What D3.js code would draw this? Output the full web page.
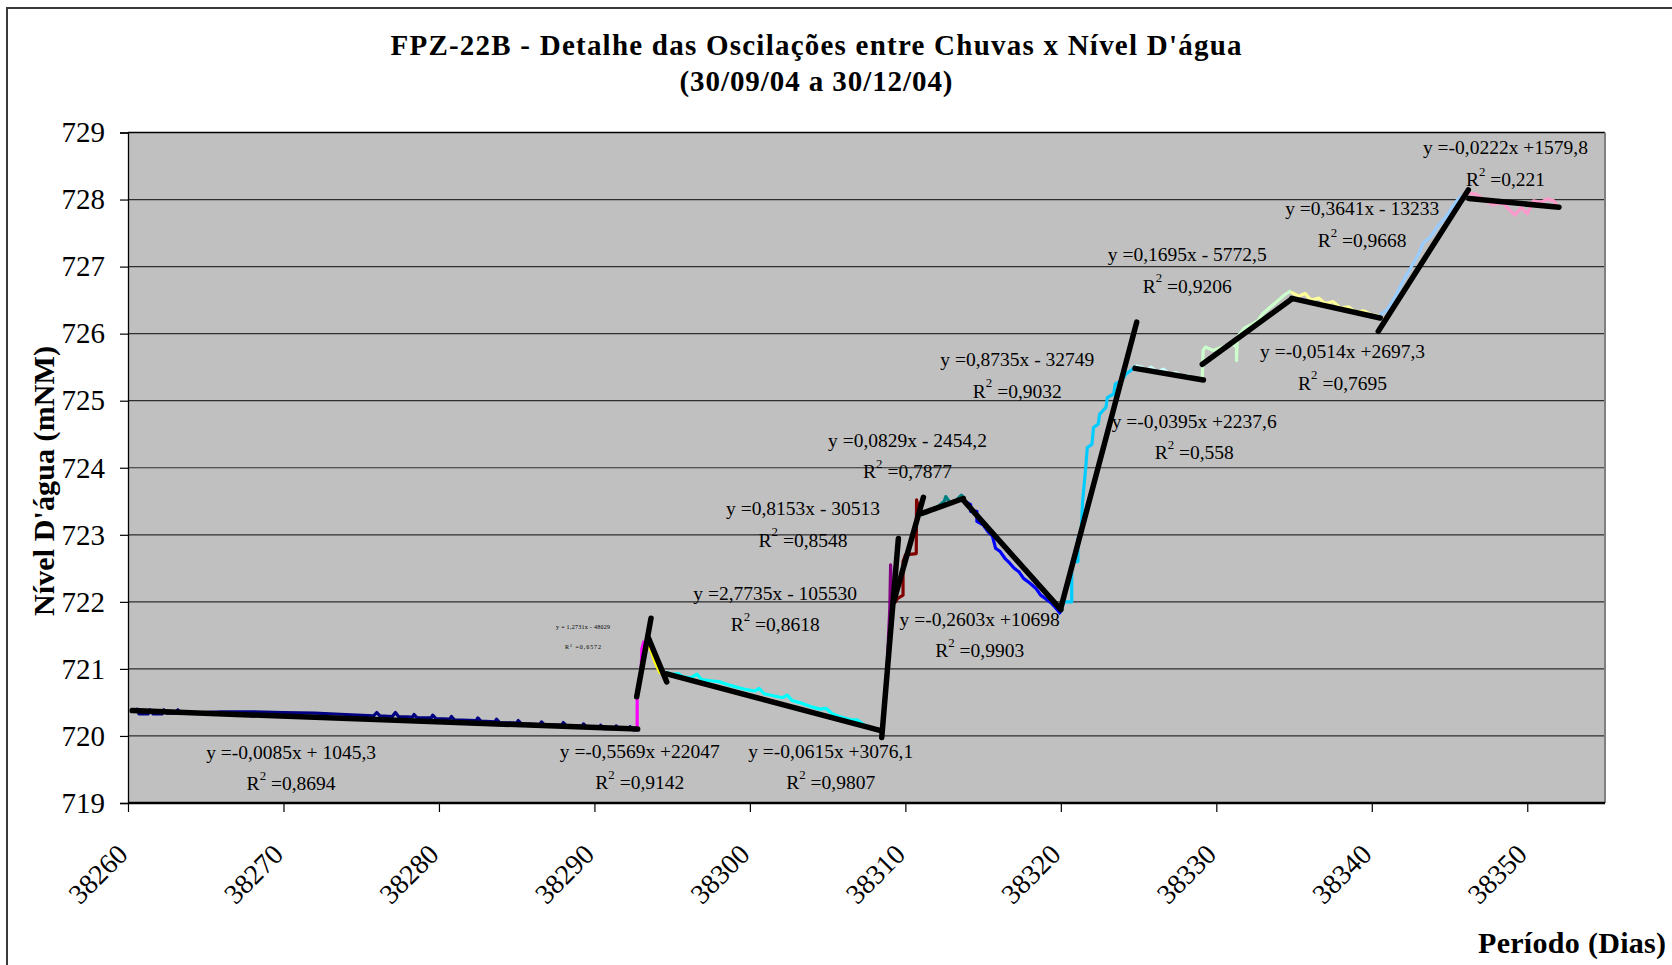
<!DOCTYPE html>
<html>
<head>
<meta charset="utf-8">
<script src="https://cdn.jsdelivr.net/npm/d3@7"></script>
<style>
  body { margin: 0; background: #fff; }
  svg { display: block; }
  text { font-family: "Liberation Serif", "Times New Roman", serif; fill: #000; }
</style>
</head>
<body>
<svg id="chart" width="1672" height="965"></svg>
<script>
// Axis ticks
const xTicks = [38260, 38270, 38280, 38290, 38300, 38310, 38320, 38330, 38340, 38350];
const yTicks = [719, 720, 721, 722, 723, 724, 725, 726, 727, 728, 729];

// Water level readings, one array per oscillation stretch: [day, level (mNM)]
const s01 = [[38260.4,720.37],[38260.6,720.40],[38260.7,720.33],[38261.3,720.33],[38261.4,720.39],[38261.6,720.33],
  [38262.2,720.33],[38262.3,720.39],[38262.5,720.34],[38263.1,720.34],[38263.2,720.39],[38263.4,720.34],
  [38264.2,720.34],[38264.8,720.35],[38266,720.36],[38268,720.36],[38270,720.35],[38272,720.34],[38274,720.32],
  [38275.8,720.30],[38276,720.35],[38276.2,720.30],[38277,720.29],[38277.2,720.35],[38277.4,720.29],
  [38278.3,720.28],[38278.4,720.32],[38278.6,720.27],[38279.5,720.27],[38279.6,720.31],[38279.8,720.26],
  [38280.7,720.25],[38280.8,720.29],[38281,720.24],[38282.4,720.23],[38282.5,720.27],[38282.7,720.22],
  [38283.6,720.21],[38283.7,720.25],[38283.9,720.20],[38285,720.19],[38285.1,720.23],[38285.3,720.18],
  [38286.5,720.17],[38286.6,720.21],[38286.8,720.16],[38287.9,720.16],[38288,720.20],[38288.2,720.15],
  [38289.2,720.14],[38289.3,720.18],[38289.5,720.13],[38290.3,720.12],[38290.4,720.16],[38290.6,720.11],
  [38291.3,720.11],[38291.4,720.15],[38291.6,720.10],[38292.2,720.10],[38292.3,720.14],[38292.5,720.09],[38292.75,720.09]];
const s02 = [[38292.75,720.08],[38292.75,720.60],[38293.0,720.90],[38293.05,721.30],[38293.2,721.42]];
const s03 = [[38293.3,721.45],[38293.6,721.30],[38293.9,721.10],[38294.2,720.95],[38294.5,720.90],[38294.6,720.95]];
const s04 = [[38294.6,720.95],[38295,720.92],[38295.4,720.93],[38295.7,720.88],[38296.2,720.87],[38296.6,720.92],
  [38296.9,720.84],[38297.6,720.82],[38298.0,720.81],[38298.4,720.78],[38298.8,720.75],[38299.3,720.72],
  [38299.8,720.69],[38300.3,720.67],[38300.6,720.71],[38300.9,720.63],[38301.5,720.60],[38302.1,720.57],
  [38302.4,720.61],[38302.7,720.53],[38303.3,720.49],[38303.9,720.44],[38304.5,720.40],[38304.9,720.41],
  [38305.3,720.33],[38305.9,720.28],[38306.5,720.24],[38306.9,720.24],[38307.3,720.17],[38307.8,720.12],
  [38308.3,720.08],[38308.5,720.06]];
const s05 = [[38308.55,720.08],[38308.8,720.90],[38309.0,721.90],[38309.05,722.55],[38309.1,722.15]];
const s06 = [[38309.3,721.98],[38309.5,722.05],[38309.85,722.10],[38309.85,722.60],[38310.0,722.70],[38310.7,722.72],
  [38310.72,723.52],[38310.8,723.45],[38311.0,723.30]];
const s07 = [[38311.0,723.30],[38311.4,723.33],[38311.8,723.38],[38312.2,723.44],[38312.5,723.50],[38312.6,723.57],
  [38312.9,723.47],[38313.3,723.52],[38313.6,723.59],[38313.8,723.55]];
const s08 = [[38313.8,723.50],[38314.2,723.45],[38314.2,723.35],[38314.6,723.35],[38314.6,723.20],[38315.0,723.15],
  [38315.3,723.05],[38315.6,722.98],[38315.8,722.80],[38316.1,722.75],[38316.4,722.65],[38316.7,722.58],
  [38317.0,722.50],[38317.3,722.45],[38317.6,722.35],[38318.0,722.28],[38318.4,722.20],[38318.7,722.10],
  [38319.0,722.05],[38319.4,721.98],[38319.7,721.90],[38320.0,721.82]];
const s09 = [[38320.0,721.85],[38320.2,722.00],[38320.7,722.00],[38320.7,722.60],[38321.1,722.60],[38321.1,722.95],
  [38321.3,723.00],[38321.4,723.50],[38321.6,724.00],[38321.7,724.30],[38322.0,724.35],[38322.1,724.60],
  [38322.4,724.65],[38322.5,724.80],[38322.9,724.90],[38323.0,725.05],[38323.4,725.10],[38323.5,725.25],
  [38323.9,725.30],[38324.2,725.40],[38324.5,725.45],[38324.8,725.52]];
const s10 = [[38324.8,725.52],[38325.2,725.50],[38325.5,725.45],[38325.8,725.50],[38326.2,725.43],[38326.6,725.47],
  [38327,725.39],[38327.4,725.42],[38327.8,725.36],[38328.2,725.38],[38328.6,725.32],[38329.1,725.34]];
const s11 = [[38329.1,725.35],[38329.15,725.75],[38329.3,725.80],[38329.8,725.75],[38330.4,725.80],[38331.0,725.85],
  [38331.3,725.80],[38331.3,725.60],[38331.35,725.95],[38331.8,726.08],[38332.3,726.14],[38332.7,726.20],
  [38333.0,726.30],[38333.5,726.40],[38334,726.50],[38334.4,726.58],[38334.8,726.64]];
const s12 = [[38334.8,726.62],[38335.3,726.56],[38335.7,726.60],[38336.1,726.50],[38336.6,726.53],[38337,726.45],
  [38337.5,726.48],[38338,726.38],[38338.5,726.40],[38339,726.32],[38339.5,726.34],[38340.0,726.28],[38340.5,726.27]];
const s13 = [[38340.5,726.27],[38341,726.36],[38341.5,726.55],[38342,726.78],[38342.5,726.98],[38343,727.18],
  [38343.3,727.35],[38343.8,727.45],[38344.3,727.62],[38344.8,727.75],[38345.2,727.90],[38345.6,728.02],[38346.1,728.10]];
const s14 = [[38346.1,728.10],[38346.7,728.08],[38347.2,728.00],[38347.8,727.92],[38348.4,727.96],[38348.8,727.86],
  [38349.2,727.77],[38349.6,727.88],[38350,727.79],[38350.4,727.98],[38350.9,727.96],[38351.3,728.01],[38351.7,727.98],[38351.9,727.92]];

// Linear trend of each stretch: slope per day, span in days and level at the span centre
const trendSlope = [-0.0085, 1.2731, -0.5569, -0.0615, 2.7735, 0.8153, 0.0829, -0.2603, 0.8735, -0.0395, 0.1695, -0.0514, 0.3641, -0.0222];
const trendFrom  = [38260.27, 38292.72, 38293.47, 38294.65, 38308.48, 38309.25, 38311.05, 38313.73, 38320.0, 38324.77, 38329.1, 38334.85, 38340.42, 38346.25];
const trendTo    = [38292.78, 38293.64, 38294.65, 38308.48, 38309.55, 38311.16, 38313.73, 38320.0, 38324.88, 38329.17, 38334.85, 38340.54, 38346.21, 38352.04];
const trendMid   = [720.24, 721.17, 721.135, 720.50, 721.46, 722.78, 723.43, 722.70, 724.04, 725.395, 726.03, 726.38, 727.09, 727.95];

// Trend equations and fit quality
const trendEquation = ["y =-0,0085x + 1045,3", "y = 1,2731x - 48029", "y =-0,5569x +22047", "y =-0,0615x +3076,1",
  "y =2,7735x - 105530", "y =0,8153x - 30513", "y =0,0829x - 2454,2", "y =-0,2603x +10698", "y =0,8735x - 32749",
  "y =-0,0395x +2237,6", "y =0,1695x - 5772,5", "y =-0,0514x +2697,3", "y =0,3641x - 13233", "y =-0,0222x +1579,8"];
const trendR2 = ["0,8694", "0,6572", "0,9142", "0,9807", "0,8618", "0,8548", "0,7877", "0,9903", "0,9032", "0,558", "0,9206", "0,7695", "0,9668", "0,221"];
// Where each equation sits, in chart units
const labelDay   = [38270.49, 38289.27, 38292.92, 38305.2, 38301.63, 38303.42, 38310.14, 38314.78, 38317.2, 38328.58, 38328.13, 38338.12, 38339.38, 38348.6];
const labelLevel = [719.76, 721.62, 719.77, 719.77, 722.13, 723.39, 724.41, 721.74, 725.61, 724.69, 727.18, 725.73, 727.86, 728.77];

const seriesData = [s01, s02, s03, s04, s05, s06, s07, s08, s09, s10, s11, s12, s13, s14];
const seriesColor = ["#000080", "#FF00FF", "#FFFF00", "#00FFFF", "#800080", "#800000", "#008080",
  "#0000FF", "#00CCFF", "#CCFFFF", "#CCFFCC", "#FFFF99", "#99CCFF", "#FF99CC"];

const svg = d3.select("#chart");
const x = d3.scaleLinear().domain([38260, 38355]).range([128, 1605]);
const y = d3.scaleLinear().domain([719, 729]).range([803, 132.5]);
const x0 = x.range()[0], x1 = x.range()[1];
const yTop = y(729), yBot = y(719);

// Outer frame
svg.append("path").attr("d", "M7,965 V8 H1672")
  .attr("fill", "none").attr("stroke", "#3a3a3a").attr("stroke-width", 2);

// Title
svg.append("text").attr("x", 816).attr("y", 55).attr("text-anchor", "middle")
  .attr("font-size", 29).attr("font-weight", "bold")
  .attr("textLength", 851).attr("lengthAdjust", "spacing")
  .text("FPZ-22B - Detalhe das Oscilações entre Chuvas x Nível D'água");
svg.append("text").attr("x", 816).attr("y", 91).attr("text-anchor", "middle")
  .attr("font-size", 29).attr("font-weight", "bold")
  .attr("textLength", 273).attr("lengthAdjust", "spacing")
  .text("(30/09/04 a 30/12/04)");

// Plot area
svg.append("rect").attr("x", x0).attr("y", yTop).attr("width", x1 - x0).attr("height", yBot - yTop)
  .attr("fill", "#C0C0C0");

// Horizontal gridlines
svg.append("g").selectAll("line").data(yTicks.slice(1, -1)).join("line")
  .attr("x1", x0).attr("x2", x1).attr("y1", d => y(d)).attr("y2", d => y(d))
  .attr("stroke", "#2e2e2e").attr("stroke-width", 1.2);

// Plot frame: top, right
svg.append("line").attr("x1", x0).attr("x2", x1).attr("y1", yTop).attr("y2", yTop).attr("stroke", "#000").attr("stroke-width", 1.3);
svg.append("line").attr("x1", x1).attr("x2", x1).attr("y1", yTop).attr("y2", yBot).attr("stroke", "#808080").attr("stroke-width", 2);

// Y axis
const yAxis = svg.append("g").attr("transform", `translate(${x0},0)`)
  .call(d3.axisLeft(y).tickValues(yTicks).tickSize(8).tickPadding(15).tickFormat(d3.format("d")));
yAxis.select(".domain").attr("stroke", "#000").attr("stroke-width", 1.3);
yAxis.selectAll(".tick line").attr("stroke", "#000").attr("stroke-width", 1.2);
yAxis.selectAll(".tick text").attr("font-size", 29).attr("font-family", "Liberation Serif, serif").attr("fill", "#000");

// X axis
const xAxis = svg.append("g").attr("transform", `translate(0,${yBot})`)
  .call(d3.axisBottom(x).tickValues(xTicks).tickSize(9).tickFormat(d3.format("d")));
xAxis.select(".domain").remove();
xAxis.selectAll(".tick line").attr("stroke", "#000").attr("stroke-width", 1.2);
xAxis.selectAll(".tick text")
  .attr("font-size", 28).attr("font-family", "Liberation Serif, serif").attr("fill", "#000")
  .attr("text-anchor", "end").attr("y", 0).attr("dy", 0)
  .attr("transform", "translate(1,53) rotate(-45)");
svg.append("line").attr("x1", x0).attr("x2", x1).attr("y1", yBot).attr("y2", yBot)
  .attr("stroke", "#000").attr("stroke-width", 2.5);

// Axis titles
svg.append("text").attr("transform", "translate(43,481) rotate(-90)")
  .attr("text-anchor", "middle").attr("dominant-baseline", "central")
  .attr("font-size", 30).attr("font-weight", "bold")
  .attr("textLength", 270).attr("lengthAdjust", "spacing")
  .text("Nível D'água (mNM)");
svg.append("text").attr("x", 1478).attr("y", 953)
  .attr("font-size", 30).attr("font-weight", "bold").attr("letter-spacing", 0.3)
  .text("Período (Dias)");

// Level readings
const line = d3.line().x(d => x(d[0])).y(d => y(d[1]));
const plot = svg.append("g");
plot.selectAll("path.level").data(seriesData).join("path")
  .attr("class", "level")
  .attr("d", line)
  .attr("fill", "none")
  .attr("stroke", (d, i) => seriesColor[i])
  .attr("stroke-width", 3.2)
  .attr("stroke-linejoin", "round");

// Trend lines
const trends = trendSlope.map((m, i) => {
  const c = (trendFrom[i] + trendTo[i]) / 2;
  return [[trendFrom[i], trendMid[i] + m * (trendFrom[i] - c)],
          [trendTo[i], trendMid[i] + m * (trendTo[i] - c)]];
});
plot.selectAll("path.trend").data(trends).join("path")
  .attr("class", "trend")
  .attr("d", line)
  .attr("fill", "none")
  .attr("stroke", "#000")
  .attr("stroke-width", 5.5)
  .attr("stroke-linecap", "round");

// Equation and R² labels
const labels = svg.append("g");
trendEquation.forEach((eq, i) => {
  const tiny = i === 1;
  const fs = tiny ? 6 : 19.5;
  const gap = tiny ? 20 : 31;
  const lx = x(labelDay[i]), ly = y(labelLevel[i]);
  const t1 = labels.append("text").attr("x", lx).attr("y", ly)
    .attr("text-anchor", "middle").attr("dominant-baseline", "central")
    .attr("font-size", fs).text(eq);
  if (tiny) t1.attr("textLength", 54).attr("lengthAdjust", "spacing");
  const t2 = labels.append("text").attr("x", lx).attr("y", ly + gap)
    .attr("text-anchor", "middle").attr("dominant-baseline", "central")
    .attr("font-size", fs);
  t2.append("tspan").text("R");
  t2.append("tspan").attr("font-size", fs * 0.66).attr("dy", -fs * 0.38).text("2");
  t2.append("tspan").attr("dy", fs * 0.38).text(" =" + trendR2[i]);
  if (tiny) t2.attr("textLength", 36).attr("lengthAdjust", "spacing");
});
</script>
</body>
</html>
